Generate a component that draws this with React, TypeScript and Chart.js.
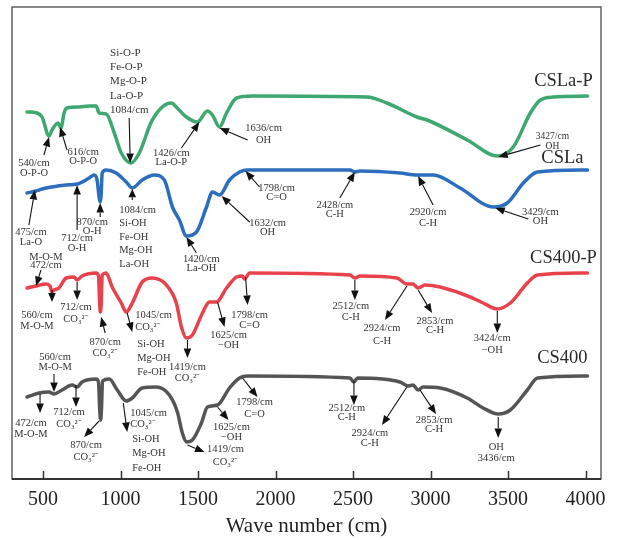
import React, { useEffect, useRef } from "react";
import { Chart, registerables } from "chart.js";

Chart.register(...registerables);

const FONT = "'Liberation Serif', 'Times New Roman', serif";

const xTicks = [500, 1000, 1500, 2000, 2500, 3000, 3500, 4000];

// CSLa-P (green)
const cslaPWave = [397, 461, 494, 539, 558, 597, 616, 636, 655, 733, 798, 843, 862, 908, 960, 1005, 1069, 1121, 1205, 1328, 1360, 1425, 1496, 1561, 1593, 1639, 1684, 1749, 1852, 2590, 2719, 2913, 2978, 3237, 3431, 3534, 3644, 3709, 3793, 4013];
const cslaPT = [367, 366, 362, 343, 349, 356, 351, 366, 371, 372, 373, 373, 366, 365, 346, 326, 316, 326, 359, 376, 372, 362, 357, 368, 364, 352, 366, 381, 383, 382, 376, 362, 359, 339, 323, 332, 366, 379, 382, 383];

// CSLa (blue)
const cslaWave = [397, 455, 494, 558, 649, 720, 798, 830, 849, 862, 869, 875, 882, 907, 972, 1037, 1076, 1140, 1218, 1283, 1335, 1380, 1425, 1490, 1555, 1593, 1639, 1703, 1768, 1820, 2480, 2512, 2545, 2803, 2913, 3017, 3191, 3405, 3495, 3599, 3690, 4013];
const cslaT = [286, 288, 290, 292, 294, 295, 301, 304, 299, 282, 277, 284, 306, 309, 306, 297, 291, 299, 304, 299, 272, 259, 243, 247, 272, 287, 284, 299, 307, 309, 309, 307, 308, 306, 304, 304, 291, 272, 276, 296, 307, 309];

// CS400-P (red)
const cs400PWave = [397, 455, 519, 545, 558, 571, 603, 649, 700, 720, 752, 843, 858, 866, 870, 875, 882, 907, 946, 1005, 1037, 1076, 1140, 1205, 1296, 1360, 1393, 1425, 1464, 1529, 1574, 1619, 1684, 1749, 1787, 1800, 1833, 2480, 2512, 2545, 2783, 2848, 2887, 2920, 2965, 3062, 3256, 3340, 3431, 3515, 3625, 3690, 4013];
const cs400PT = [191, 193, 195, 193, 187, 189, 191, 201, 202, 199, 203, 206, 203, 174, 167, 174, 204, 206, 192, 176, 167, 176, 197, 201, 194, 176, 152, 141, 144, 166, 177, 177, 191, 202, 203, 200, 206, 204, 201, 203, 201, 195, 195, 191, 194, 192, 182, 176, 170, 176, 196, 204, 206];

// CS400 (dark grey)
const cs400Wave = [397, 474, 539, 571, 623, 688, 720, 752, 843, 858, 866, 872, 877, 884, 927, 979, 1037, 1076, 1140, 1231, 1315, 1367, 1399, 1425, 1464, 1522, 1561, 1626, 1703, 1768, 1820, 2480, 2505, 2530, 2803, 2855, 2887, 2920, 2952, 3062, 3237, 3340, 3437, 3515, 3625, 3690, 4013];
const cs400T = [82, 86, 87, 85, 89, 94, 92, 97, 100, 97, 69, 59, 69, 98, 100, 89, 78, 81, 91, 92, 84, 67, 46, 37, 39, 56, 72, 74, 91, 101, 103, 101, 97, 101, 97, 93, 94, 89, 92, 91, 81, 71, 65, 69, 89, 101, 103];

const seriesNames = ["CSLa-P", "CSLa", "CS400-P", "CS400"];
const seriesColors = ["#3DA86F", "#2C6EBD", "#E8434C", "#555555"];

// label anchors (wavenumber, transmittance a.u.)
const seriesLabelX = [3858, 3851, 3858, 3851];
const seriesLabelY = [398, 321, 221, 121];

type Note = { lines: string[]; x: number; y: number; lh: number; align?: CanvasTextAlign; size?: number };
type Arrow = { from: [number, number]; to: [number, number] };

const CO3 = "CO\u2083\u00B2\u207B";

const notes: Note[] = [
  // CSLa-P
  { lines: ["Si-O-P", "Fe-O-P", "Mg-O-P", "La-O-P", "1084/cm"], x: 933, y: 426, lh: 14.3, align: "left", size: 11 },
  { lines: ["540/cm", "O-P-O"], x: 442, y: 316, lh: 10 },
  { lines: ["616/cm", "O-P-O"], x: 759, y: 327, lh: 9.5 },
  { lines: ["1426/cm", "La-O-P"], x: 1328, y: 326, lh: 9.5 },
  { lines: ["1636/cm", "OH"], x: 1923, y: 351, lh: 12 },
  { lines: ["3427/cm", "OH"], x: 3787, y: 343, lh: 10, size: 9.5 },
  // CSLa
  { lines: ["475/cm", "La-O"], x: 422, y: 247, lh: 10 },
  { lines: ["712/cm", "O-H"], x: 720, y: 241, lh: 10 },
  { lines: ["870/cm", "O-H"], x: 817, y: 257, lh: 9.5 },
  { lines: ["1084/cm", "Si-OH", "Fe-OH", "Mg-OH", "La-OH"], x: 992, y: 269, lh: 13.5, align: "left" },
  { lines: ["1420/cm", "La-OH"], x: 1522, y: 220, lh: 9.5 },
  { lines: ["1632/cm", "OH"], x: 1949, y: 256, lh: 9.5 },
  { lines: ["1798/cm", "C=O"], x: 2007, y: 291, lh: 9.5 },
  { lines: ["2428/cm", "C-H"], x: 2383, y: 274, lh: 9.5 },
  { lines: ["2920/cm", "C-H"], x: 2984, y: 267, lh: 11 },
  { lines: ["3429/cm", "OH"], x: 3709, y: 267, lh: 9.5 },
  // CS400-P
  { lines: ["M-O-M", "472/cm"], x: 519, y: 222, lh: 8.5 },
  { lines: ["560/cm", "M-O-M"], x: 461, y: 164, lh: 11 },
  { lines: ["712/cm", CO3], x: 713, y: 172, lh: 12 },
  { lines: ["870/cm", CO3], x: 901, y: 137, lh: 11 },
  { lines: ["1045/cm", CO3], x: 1095, y: 164, lh: 12, align: "left" },
  { lines: ["Si-OH", "Mg-OH", "Fe-OH"], x: 1108, y: 135, lh: 14, align: "left" },
  { lines: ["1419/cm", CO3], x: 1432, y: 112, lh: 11 },
  { lines: ["1625/cm", "\u2212OH"], x: 1697, y: 144, lh: 10 },
  { lines: ["1798/cm", "C=O"], x: 1833, y: 164, lh: 10 },
  { lines: ["2512/cm", "C-H"], x: 2486, y: 173, lh: 11 },
  { lines: ["2924/cm", "C-H"], x: 2687, y: 151, lh: 13 },
  { lines: ["2853/cm", "C-H"], x: 3029, y: 158, lh: 9.5 },
  { lines: ["3424/cm", "\u2212OH"], x: 3398, y: 141, lh: 12 },
  // CS400
  { lines: ["560/cm", "M-O-M"], x: 578, y: 122, lh: 10 },
  { lines: ["472/cm", "M-O-M"], x: 422, y: 56, lh: 11 },
  { lines: ["712/cm", CO3], x: 668, y: 67, lh: 12 },
  { lines: ["870/cm", CO3], x: 778, y: 34, lh: 12 },
  { lines: ["1045/cm", CO3], x: 1063, y: 66, lh: 11, align: "left" },
  { lines: ["Si-OH", "Mg-OH", "Fe-OH"], x: 1076, y: 40, lh: 14.5, align: "left" },
  { lines: ["1419/cm", CO3], x: 1677, y: 30, lh: 13 },
  { lines: ["1625/cm", "\u2212OH"], x: 1716, y: 52, lh: 10 },
  { lines: ["1798/cm", "C=O"], x: 1865, y: 77, lh: 12 },
  { lines: ["2512/cm", "C-H"], x: 2460, y: 71, lh: 9.5 },
  { lines: ["2924/cm", "C-H"], x: 2609, y: 46, lh: 10 },
  { lines: ["2853/cm", "C-H"], x: 3023, y: 59, lh: 9.5 },
  { lines: ["OH", "3436/cm"], x: 3424, y: 32, lh: 11 },
];

const arrows: Arrow[] = [
  // CSLa-P
  { from: [1056, 361], to: [1063, 316] },
  { from: [506, 324], to: [539, 342] },
  { from: [655, 329], to: [610, 352] },
  { from: [1393, 331], to: [1509, 357] },
  { from: [1820, 339], to: [1639, 351] },
  { from: [3709, 334], to: [3437, 322] },
  // CSLa
  { from: [409, 254], to: [448, 289] },
  { from: [720, 249], to: [720, 294] },
  { from: [869, 262], to: [869, 276] },
  { from: [1076, 279], to: [1076, 290] },
  { from: [1490, 226], to: [1425, 242] },
  { from: [1833, 257], to: [1652, 283] },
  { from: [1897, 292], to: [1807, 308] },
  { from: [2415, 281], to: [2512, 307] },
  { from: [3017, 274], to: [2920, 303] },
  { from: [3631, 260], to: [3418, 271] },
  // CS400-P
  { from: [487, 209], to: [455, 193] },
  { from: [558, 189], to: [558, 177] },
  { from: [720, 197], to: [720, 179] },
  { from: [901, 146], to: [875, 162] },
  { from: [1043, 166], to: [1076, 147] },
  { from: [1432, 139], to: [1432, 121] },
  { from: [1626, 177], to: [1671, 152] },
  { from: [1807, 202], to: [1820, 174] },
  { from: [2512, 199], to: [2512, 179] },
  { from: [2848, 193], to: [2706, 159] },
  { from: [2920, 189], to: [3010, 166] },
  { from: [3431, 168], to: [3431, 146] },
  // CS400
  { from: [571, 105], to: [571, 87] },
  { from: [481, 85], to: [481, 66] },
  { from: [713, 94], to: [713, 72] },
  { from: [862, 58], to: [765, 42] },
  { from: [1018, 76], to: [1043, 47] },
  { from: [1432, 34], to: [1542, 27] },
  { from: [1626, 72], to: [1697, 59] },
  { from: [1787, 101], to: [1884, 82] },
  { from: [2506, 98], to: [2506, 74] },
  { from: [2848, 92], to: [2687, 54] },
  { from: [2932, 89], to: [3036, 65] },
  { from: [3437, 62], to: [3437, 41] },
];

const toPoints = (xs: number[], ys: number[]) => xs.map((x, i) => ({ x, y: ys[i] }));

const decorPlugin = {
  id: "ftirDecor",
  afterDatasetsDraw(chart: any) {
    const { ctx, chartArea, scales } = chart;
    const xs = scales.x;
    const ys = scales.y;
    ctx.save();
    // frame
    ctx.strokeStyle = "#4a4a4a";
    ctx.lineWidth = 1.3;
    ctx.strokeRect(chartArea.left, chartArea.top, chartArea.right - chartArea.left, chartArea.bottom - chartArea.top);
    ctx.strokeStyle = "#333";
    ctx.lineWidth = 2;
    ctx.beginPath();
    ctx.moveTo(chartArea.left, chartArea.bottom);
    ctx.lineTo(chartArea.right, chartArea.bottom);
    ctx.stroke();
    // inward ticks
    ctx.lineWidth = 1.5;
    xTicks.forEach((t) => {
      const px = Math.round(xs.getPixelForValue(t)) + 0.5;
      ctx.beginPath();
      ctx.moveTo(px, chartArea.bottom);
      ctx.lineTo(px, chartArea.bottom - 8);
      ctx.stroke();
    });
    // arrows
    ctx.strokeStyle = "#111";
    ctx.fillStyle = "#111";
    arrows.forEach((a) => {
      const x1 = xs.getPixelForValue(a.from[0]);
      const y1 = ys.getPixelForValue(a.from[1]);
      const x2 = xs.getPixelForValue(a.to[0]);
      const y2 = ys.getPixelForValue(a.to[1]);
      const ang = Math.atan2(y2 - y1, x2 - x1);
      const len = Math.hypot(x2 - x1, y2 - y1);
      const head = Math.min(9.5, len * 0.75);
      const hw = 3.8;
      const bx = x2 - head * Math.cos(ang);
      const by = y2 - head * Math.sin(ang);
      ctx.lineWidth = 1.1;
      ctx.beginPath();
      ctx.moveTo(x1, y1);
      ctx.lineTo(bx, by);
      ctx.stroke();
      ctx.beginPath();
      ctx.moveTo(x2, y2);
      ctx.lineTo(bx + hw * Math.sin(ang), by - hw * Math.cos(ang));
      ctx.lineTo(bx - hw * Math.sin(ang), by + hw * Math.cos(ang));
      ctx.closePath();
      ctx.fill();
    });
    // notes
    ctx.fillStyle = "#333";
    ctx.textBaseline = "middle";
    notes.forEach((n) => {
      ctx.font = `${n.size ?? 10.5}px ${FONT}`;
      ctx.textAlign = n.align ?? "center";
      const px = xs.getPixelForValue(n.x);
      const py = ys.getPixelForValue(n.y);
      n.lines.forEach((l, i) => ctx.fillText(l, px, py + i * n.lh));
    });
    // series names
    ctx.font = `18.5px ${FONT}`;
    ctx.fillStyle = "#2a2a2a";
    ctx.textAlign = "center";
    seriesNames.forEach((name, i) => {
      ctx.fillText(name, xs.getPixelForValue(seriesLabelX[i]), ys.getPixelForValue(seriesLabelY[i]));
    });
    ctx.restore();
  },
};

export default function App() {
  const ref = useRef<HTMLCanvasElement | null>(null);
  useEffect(() => {
    if (!ref.current) return;
    const series = [
      toPoints(cslaPWave, cslaPT),
      toPoints(cslaWave, cslaT),
      toPoints(cs400PWave, cs400PT),
      toPoints(cs400Wave, cs400T),
    ];
    const chart = new Chart(ref.current, {
      type: "line",
      data: {
        datasets: series.map((d, i) => ({
          label: seriesNames[i],
          data: d,
          borderColor: seriesColors[i],
          backgroundColor: seriesColors[i],
          borderWidth: 3.5,
          pointRadius: 0,
          fill: false,
          cubicInterpolationMode: "monotone" as const,
          borderCapStyle: "round" as const,
          borderJoinStyle: "round" as const,
        })),
      },
      options: {
        responsive: false,
        animation: false,
        layout: { padding: { left: 12, right: 17, top: 7, bottom: 0 } },
        plugins: { legend: { display: false }, tooltip: { enabled: false } },
        scales: {
          x: {
            type: "linear",
            min: 300,
            max: 4100,
            afterBuildTicks: (s: any) => {
              s.ticks = xTicks.map((v) => ({ value: v }));
            },
            afterFit: (s: any) => {
              s.height = 61;
            },
            grid: { display: false, drawTicks: false },
            border: { display: false },
            ticks: {
              autoSkip: false,
              maxRotation: 0,
              padding: 9,
              color: "#222",
              font: { family: FONT, size: 20 },
              callback: (v: any) => String(v),
            },
            title: {
              display: true,
              text: "Wave number (cm)",
              color: "#222",
              font: { family: FONT, size: 21 },
              padding: { top: 0, bottom: 1 },
            },
          },
          y: { display: false, min: 0, max: 472 },
        },
      },
      plugins: [decorPlugin],
    });
    return () => chart.destroy();
  }, []);
  return (
    <div style={{ position: "absolute", left: 0, top: 0, width: 618, height: 540, background: "#fff" }}>
      <canvas ref={ref} width={618} height={540} style={{ display: "block" }} />
    </div>
  );
}
